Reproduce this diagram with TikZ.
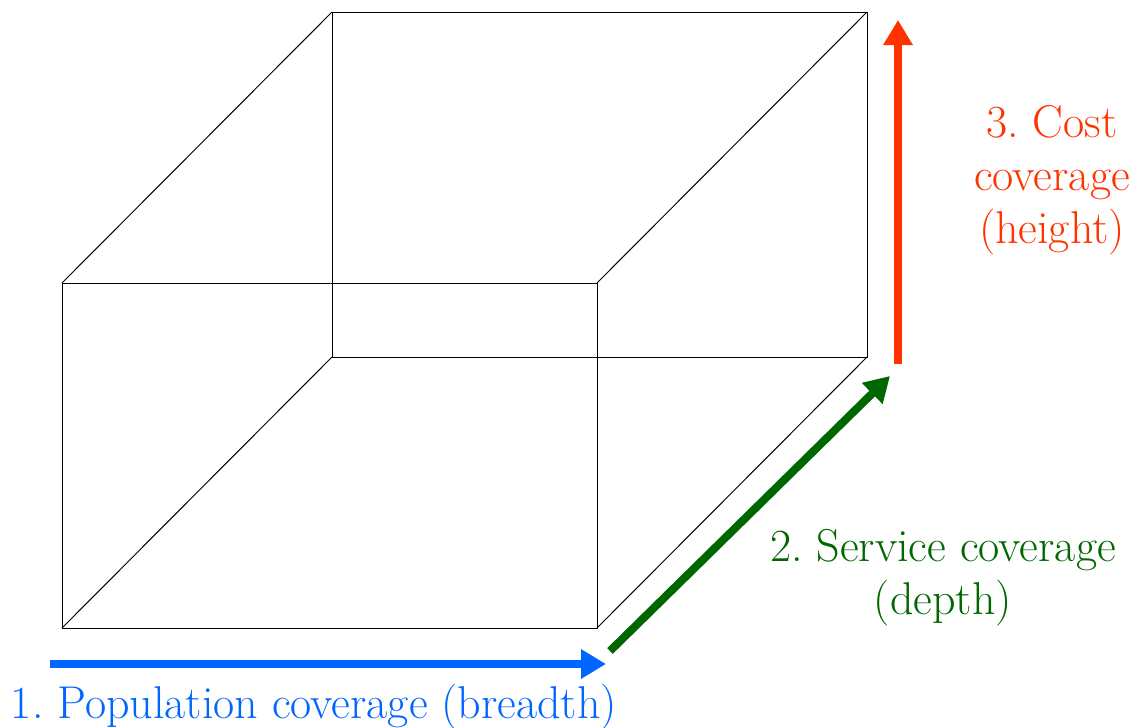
\documentclass[tikz,border=0pt]{standalone}
\usetikzlibrary{arrows.meta}
\definecolor{popblue}{RGB}{0,102,255}
\definecolor{servgreen}{RGB}{0,102,0}
\definecolor{costred}{RGB}{255,51,0}
\frenchspacing
\tikzset{axis/.style={line width=4pt, -{Triangle[length=12.5pt,width=14pt]}},
  lbl/.style={font=\fontsize{23}{26.5}\selectfont, align=center, inner sep=0pt}}
\begin{document}
\begin{tikzpicture}[x=0.5pt, y=-0.5pt, line width=0.5pt]
\useasboundingbox (0,0) rectangle (1147,728);
\draw (62,283) rectangle (597,628); \draw (332,12) rectangle (867,357);
\foreach \x/\y in {62/283,597/283,62/628,597/628} \draw (\x,\y) -- ++(270,-271);
% axes
\coordinate (popstart) at (50,664); \coordinate (popend) at (606,664);
\coordinate (servstart) at (610,651); \coordinate (servend) at (890,376);
\coordinate (coststart) at (898,364); \coordinate (costend) at (898,20);
\draw[axis,popblue] (popstart) -- (popend);
\draw[axis,servgreen] (servstart) -- (servend);
\draw[axis,costred] (coststart) -- (costend);
\node[lbl,popblue] (poplbl) at (314,707) {1. Population coverage (breadth)};
\node[lbl,servgreen] (servlbl) at (943,578) {2. Service coverage\\(depth)};
\node[lbl,costred] (costlbl) at (1052,180) {3. Cost\\coverage\\(height)};
\end{tikzpicture}
\end{document}
